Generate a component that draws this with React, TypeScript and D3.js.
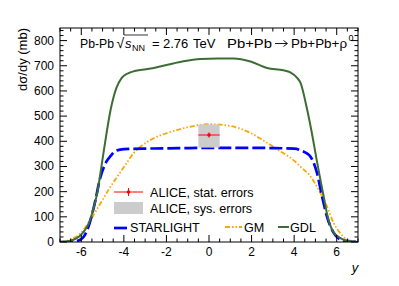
import React from 'react';
import * as d3 from 'd3';

// rapidity knots
const gdlY = [-7, -6.7, -6.4, -6.1, -5.85, -5.64, -5.45, -5.25, -5.0, -4.86, -4.62, -4.35, -4.1, -3.8, -3.5, -2.75, -2.0, -1.2, -0.4, 0.4, 1.16, 1.95, 2.73, 3.5, 3.82, 4.13, 4.3, 4.61, 4.86, 5.05, 5.25, 5.4, 5.55, 5.86, 6.3, 6.7, 7];
const gdlV = [0, 2, 8, 22, 45, 76, 125, 195, 330, 407, 526, 612, 652, 670, 679, 689, 703, 718, 727, 729, 729, 717, 691, 682, 674, 653, 632, 526, 420, 330, 240, 175, 110, 37, 10, 2, 0];

const starY = [-7, -6.5, -6.2, -6.0, -5.87, -5.63, -5.4, -5.09, -4.8, -4.62, -4.4, -4.0, -3.0, -2.0, -1.0, 0, 1.0, 2.0, 3.0, 4.0, 4.35, 4.6, 4.76, 5.07, 5.31, 5.54, 5.85, 6.16, 6.5, 7];
const starV = [0, 1, 4, 12, 23, 69, 142, 261, 322, 342, 361, 369, 371, 372, 373, 374, 374, 374, 373, 371, 363, 352, 340, 275, 182, 102, 37, 10, 2, 0];

const gmY = [-7, -6.8, -6.49, -6.02, -5.56, -5.09, -4.7, -4.3, -3.9, -3.53, -3.2, -2.6, -1.96, -1.0, 0, 1.0, 1.95, 2.73, 3.35, 3.9, 4.29, 4.76, 5.23, 5.54, 5.85, 6.16, 6.48, 6.8, 7];
const gmV = [0, 2, 10, 36, 89, 155, 210, 261, 310, 354, 380, 412, 433, 456, 468, 461, 433, 394, 360, 330, 300, 261, 195, 142, 76, 36, 10, 3, 1];

// ALICE measurement
const aliceY = [0];
const aliceV = [425];
const aliceStat = [10];
const aliceSysUp = [42];
const aliceSysDown = [50];
const aliceXerr = 0.5;

const xTicks = [-6, -4, -2, 0, 2, 4, 6];
const yTicks = [0, 100, 200, 300, 400, 500, 600, 700, 800];

const W = 399;
const H = 286;
const m = { left: 60, right: 41, top: 28, bottom: 44 };
const font = '"Liberation Sans", Arial, Helvetica, sans-serif';

const cGdl = '#3c6e33';
const cGm = '#ffa500';
const cStar = '#0000ff';
const dashGm = '5 2 1.5 2 1.5 2';

export default function App() {
  const x = d3.scaleLinear().domain([-7, 7]).range([m.left, W - m.right]);
  const y = d3.scaleLinear().domain([0, 850]).range([H - m.bottom, m.top]);
  const x0 = m.left, x1 = W - m.right, y0 = H - m.bottom, y1 = m.top;

  const mk = (ys: number[], vs: number[]) =>
    d3.line<number>().x((d) => x(d)).y((_, i) => y(vs[i])).curve(d3.curveMonotoneX)(ys) || '';

  const xMinor = d3.range(-7, 7.001, 0.5);
  const yMinor = d3.range(0, 851, 20);

  const lx0 = 114, lx1 = 143, lmid = (lx0 + lx1) / 2;

  return (
    <svg width={W} height={H} style={{ position: 'absolute', left: 0, top: 0, background: '#fff' }} fontFamily={font}>
      <defs>
        <clipPath id="plot">
          <rect x={x0} y={y1} width={x1 - x0} height={y0 - y1} />
        </clipPath>
      </defs>
      <rect width={W} height={H} fill="#fff" />

      {/* curves */}
      <g clipPath="url(#plot)" fill="none">
        <path d={mk(gmY, gmV)} stroke={cGm} strokeWidth={1.8} strokeDasharray={dashGm} />
        <path d={mk(starY, starV)} stroke={cStar} strokeWidth={2.7} strokeDasharray="13 4" />
        <path d={mk(gdlY, gdlV)} stroke={cGdl} strokeWidth={2} />
      </g>

      {/* ALICE point */}
      {aliceY.map((d, i) => (
        <g key={i}>
          <rect x={x(d - aliceXerr)} y={y(aliceV[i] + aliceSysUp[i])} width={x(d + aliceXerr) - x(d - aliceXerr)}
            height={y(aliceV[i] - aliceSysDown[i]) - y(aliceV[i] + aliceSysUp[i])} fill="#cccccc" />
          <line x1={x(d - aliceXerr)} x2={x(d + aliceXerr)} y1={y(aliceV[i])} y2={y(aliceV[i])} stroke="#ff0000" strokeWidth={1} />
          <line x1={x(d)} x2={x(d)} y1={y(aliceV[i] + aliceStat[i])} y2={y(aliceV[i] - aliceStat[i])} stroke="#ff0000" strokeWidth={1} />
          <circle cx={x(d)} cy={y(aliceV[i])} r={1.8} fill="#ff0000" />
        </g>
      ))}

      {/* frame & ticks */}
      <g stroke="#000" strokeWidth={1}>
        <rect x={x0} y={y1} width={x1 - x0} height={y0 - y1} fill="none" />
        {xMinor.map((t) => {
          const l = xTicks.includes(t) ? 7 : 3.5;
          return (
            <g key={'xm' + t}>
              <line x1={x(t)} x2={x(t)} y1={y0} y2={y0 - l} />
              <line x1={x(t)} x2={x(t)} y1={y1} y2={y1 + l} />
            </g>
          );
        })}
        {yMinor.map((t) => {
          const l = yTicks.includes(t) ? 7 : 3.5;
          return (
            <g key={'ym' + t}>
              <line x1={x0} x2={x0 + l} y1={y(t)} y2={y(t)} />
              <line x1={x1} x2={x1 - l} y1={y(t)} y2={y(t)} />
            </g>
          );
        })}
      </g>

      {/* tick labels */}
      <g fontSize={12} fill="#000">
        {xTicks.map((t) => (
          <text key={'xl' + t} x={x(t)} y={y0 + 14} textAnchor="middle">{t}</text>
        ))}
        {yTicks.map((t) => (
          <text key={'yl' + t} x={x0 - 6} y={y(t) + 4} textAnchor="end">{t}</text>
        ))}
      </g>

      {/* axis titles */}
      <text x={355} y={272} fontSize={13} fontStyle="italic" textAnchor="middle">y</text>
      <text transform={`translate(27,${y1}) rotate(-90)`} fontSize={13} textAnchor="end">dσ/dy (mb)</text>

      {/* header */}
      <g fontSize={13}>
        <text x={80} y={48} textLength={34} lengthAdjust="spacingAndGlyphs">Pb-Pb</text>
        <text x={116.5} y={48} fontSize={14}>√</text>
        <line x1={124} x2={148} y1={35} y2={35} stroke="#000" strokeWidth={0.8} />
        <text x={125} y={48} fontStyle="italic">s</text>
        <text x={132} y={51} fontSize={9}>NN</text>
        <text x={152} y={48}>=</text>
        <text x={163} y={48}>2.76</text>
        <text x={193} y={48}>TeV</text>
        <text x={227} y={48} textLength={45} lengthAdjust="spacingAndGlyphs">Pb+Pb</text>
        <path d="M275,43.5 H287 M283.5,40.5 L287.5,43.5 L283.5,46.5" stroke="#000" strokeWidth={0.9} fill="none" />
        <text x={291} y={48} textLength={56} lengthAdjust="spacingAndGlyphs">Pb+Pb+ρ</text>
        <text x={348.5} y={41} fontSize={9}>0</text>
      </g>

      {/* legend */}
      <g fontSize={12.6}>
        <line x1={lx0} x2={lx1} y1={192} y2={192} stroke="#ff0000" />
        <line x1={lmid} x2={lmid} y1={188} y2={196} stroke="#ff0000" />
        <circle cx={lmid} cy={192} r={1.8} fill="#ff0000" />
        <text x={150} y={196.5}>ALICE, stat. errors</text>
        <rect x={lx0} y={202} width={lx1 - lx0} height={12} fill="#cccccc" />
        <text x={150} y={212.5}>ALICE, sys. errors</text>
        <line x1={114} x2={127} y1={228} y2={228} stroke={cStar} strokeWidth={2.7} />
        <text x={130} y={232}>STARLIGHT</text>
        <line x1={225} x2={242} y1={227} y2={227} stroke={cGm} strokeWidth={1.8} strokeDasharray={dashGm} />
        <text x={244} y={231.5}>GM</text>
        <line x1={278} x2={289} y1={227} y2={227} stroke={cGdl} strokeWidth={2} />
        <text x={290} y={231.5}>GDL</text>
      </g>
    </svg>
  );
}
